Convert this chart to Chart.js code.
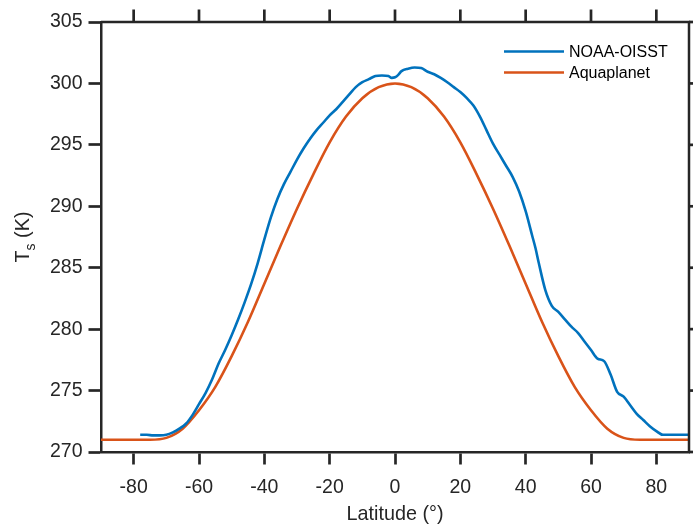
<!DOCTYPE html>
<html>
<head>
<meta charset="utf-8">
<script src="https://cdn.jsdelivr.net/npm/chart.js@4/dist/chart.umd.min.js"></script>
<style>
  html, body { margin: 0; padding: 0; background: #fff; }
</style>
</head>
<body>
<canvas id="chart" width="693" height="527"></canvas>
<script>
const xTicks = [-80, -60, -40, -20, 0, 20, 40, 60, 80];
const yTicks = [270, 275, 280, 285, 290, 295, 300, 305];

const oisstLat = [-78, -76, -74, -72, -70, -68, -66, -64, -62, -60, -58, -56, -54, -52, -50,
  -48, -46, -44, -42, -40, -38, -36, -34, -32, -30, -28, -26, -24, -22, -20, -18, -16, -14,
  -12, -10, -8, -6, -4, -2, -1, 0, 1, 2, 4, 6, 8, 10, 12, 14, 16, 18, 20, 22, 24, 26, 28, 30,
  32, 34, 36, 38, 40, 42, 43, 44, 46, 48, 50, 52, 54, 56, 58, 60, 62, 64, 66, 68, 70, 72, 74,
  76, 78, 80, 82, 84, 90];
const oisstTemp = [271.4, 271.4, 271.35, 271.35, 271.4, 271.6, 271.9, 272.3, 273.0, 273.9,
  274.8, 275.9, 277.2, 278.3, 279.5, 280.8, 282.2, 283.7, 285.4, 287.3, 289.1, 290.6, 291.8,
  292.8, 293.8, 294.7, 295.5, 296.2, 296.8, 297.4, 297.9, 298.5, 299.1, 299.7, 300.1, 300.35,
  300.6, 300.65, 300.6, 300.45, 300.5, 300.7, 301.0, 301.2, 301.3, 301.25, 300.95, 300.75,
  300.45, 300.1, 299.7, 299.3, 298.8, 298.2, 297.3, 296.2, 295.1, 294.2, 293.3, 292.4, 291.2,
  289.6, 287.6, 286.6, 285.4, 283.2, 281.9, 281.4, 280.8, 280.2, 279.7, 279.0, 278.3, 277.6,
  277.4, 276.3, 274.9, 274.5, 273.8, 273.1, 272.6, 272.1, 271.7, 271.4, 271.4, 271.4];

const aquaLat = [-90, -85, -80, -75, -70, -65, -60, -55, -50, -45, -40, -35, -30, -25, -20, -15,
  -10, -5, 0, 5, 10, 15, 20, 25, 30, 35, 40, 45, 50, 55, 60, 65, 70, 75, 80, 85, 90];
const aquaTemp = [271.0, 271.0, 271.0, 271.0, 271.15, 271.9, 273.4, 275.3, 277.8, 280.6, 283.7,
  286.8, 289.8, 292.6, 295.2, 297.3, 298.8, 299.7, 300.0, 299.7, 298.8, 297.3, 295.2, 292.6,
  289.8, 286.8, 283.7, 280.6, 277.8, 275.3, 273.4, 271.9, 271.15, 271.0, 271.0, 271.0, 271.0];

const axisColor = '#262626';
const fontFamily = "'Liberation Sans', Arial, sans-serif";
const tickLen = 12.5;

const toPoints = (xs, ys) => xs.map((x, i) => ({ x: x, y: ys[i] }));

// top/right mirror ticks, box, axis titles and legend
const framePlugin = {
  id: 'frame',
  afterDraw(chart) {
    const { ctx, chartArea: a, scales } = chart;
    ctx.save();
    ctx.strokeStyle = axisColor;
    ctx.lineWidth = 2.5;
    ctx.beginPath();
    ctx.moveTo(a.left, a.top);
    ctx.lineTo(a.right, a.top);
    ctx.lineTo(a.right, a.bottom);
    ctx.stroke();
    ctx.lineWidth = 2.7;
    xTicks.forEach((v) => {
      const px = scales.x.getPixelForValue(v);
      ctx.beginPath();
      ctx.moveTo(px, a.top);
      ctx.lineTo(px, a.top - tickLen);
      ctx.stroke();
    });
    yTicks.forEach((v) => {
      const py = scales.y.getPixelForValue(v);
      ctx.beginPath();
      ctx.moveTo(a.right, py);
      ctx.lineTo(a.right + tickLen, py);
      ctx.stroke();
    });

    // axis titles
    ctx.fillStyle = axisColor;
    ctx.font = `19.8px ${fontFamily}`;
    ctx.textAlign = 'center';
    ctx.textBaseline = 'alphabetic';
    ctx.fillText('Latitude (°)', (a.left + a.right) / 2, 520);

    ctx.save();
    ctx.translate(29, (a.top + a.bottom) / 2);
    ctx.rotate(-Math.PI / 2);
    const bigFont = `19.8px ${fontFamily}`;
    const smallFont = `14px ${fontFamily}`;
    ctx.font = bigFont;
    const wT = ctx.measureText('T').width;
    const wK = ctx.measureText(' (K)').width;
    ctx.font = smallFont;
    const wS = ctx.measureText('s').width;
    let sx = -(wT + wS + wK) / 2;
    ctx.textAlign = 'left';
    ctx.font = bigFont;
    ctx.fillText('T', sx, 0);
    ctx.font = smallFont;
    ctx.fillText('s', sx + wT, 6);
    ctx.font = bigFont;
    ctx.fillText(' (K)', sx + wT + wS, 0);
    ctx.restore();

    // legend
    ctx.font = `16px ${fontFamily}`;
    ctx.textAlign = 'left';
    ctx.textBaseline = 'middle';
    chart.data.datasets.forEach((ds, i) => {
      const ly = 51.5 + i * 21;
      ctx.strokeStyle = ds.borderColor;
      ctx.lineWidth = 2.5;
      ctx.beginPath();
      ctx.moveTo(504, ly);
      ctx.lineTo(564, ly);
      ctx.stroke();
      ctx.fillStyle = '#000';
      ctx.fillText(ds.label, 569, ly + 1);
    });
    ctx.restore();
  },
};

const ctx = document.getElementById('chart').getContext('2d');
new Chart(ctx, {
  type: 'line',
  data: {
    datasets: [
      {
        label: 'NOAA-OISST',
        data: toPoints(oisstLat, oisstTemp),
        borderColor: '#0072BD',
        borderWidth: 2.6,
        pointRadius: 0,
        cubicInterpolationMode: 'monotone',
      },
      {
        label: 'Aquaplanet',
        data: toPoints(aquaLat, aquaTemp),
        borderColor: '#D95319',
        borderWidth: 2.6,
        pointRadius: 0,
        cubicInterpolationMode: 'monotone',
      },
    ],
  },
  options: {
    responsive: false,
    animation: false,
    layout: { padding: { top: 22, right: 4, left: 0, bottom: 0 } },
    plugins: { legend: { display: false }, tooltip: { enabled: false } },
    scales: {
      x: {
        type: 'linear',
        min: -90,
        max: 90,
        afterBuildTicks: (s) => { s.ticks = xTicks.map((v) => ({ value: v })); },
        afterFit: (s) => { s.height = 75; },
        grid: { drawOnChartArea: false, tickLength: tickLen, tickWidth: 2.7, tickColor: axisColor },
        border: { display: true, width: 2.5, color: axisColor },
        ticks: {
          color: axisColor,
          font: { family: fontFamily, size: 19.5 },
          padding: 11,
          maxRotation: 0,
          autoSkip: false,
        },
      },
      y: {
        type: 'linear',
        min: 270,
        max: 305,
        afterBuildTicks: (s) => { s.ticks = yTicks.map((v) => ({ value: v })); },
        afterFit: (s) => { s.width = 101; },
        grid: { drawOnChartArea: false, tickLength: tickLen, tickWidth: 2.7, tickColor: axisColor },
        border: { display: true, width: 2.5, color: axisColor },
        ticks: {
          color: axisColor,
          font: { family: fontFamily, size: 19.5 },
          padding: 6,
          autoSkip: false,
        },
      },
    },
  },
  plugins: [framePlugin],
});
</script>
</body>
</html>
